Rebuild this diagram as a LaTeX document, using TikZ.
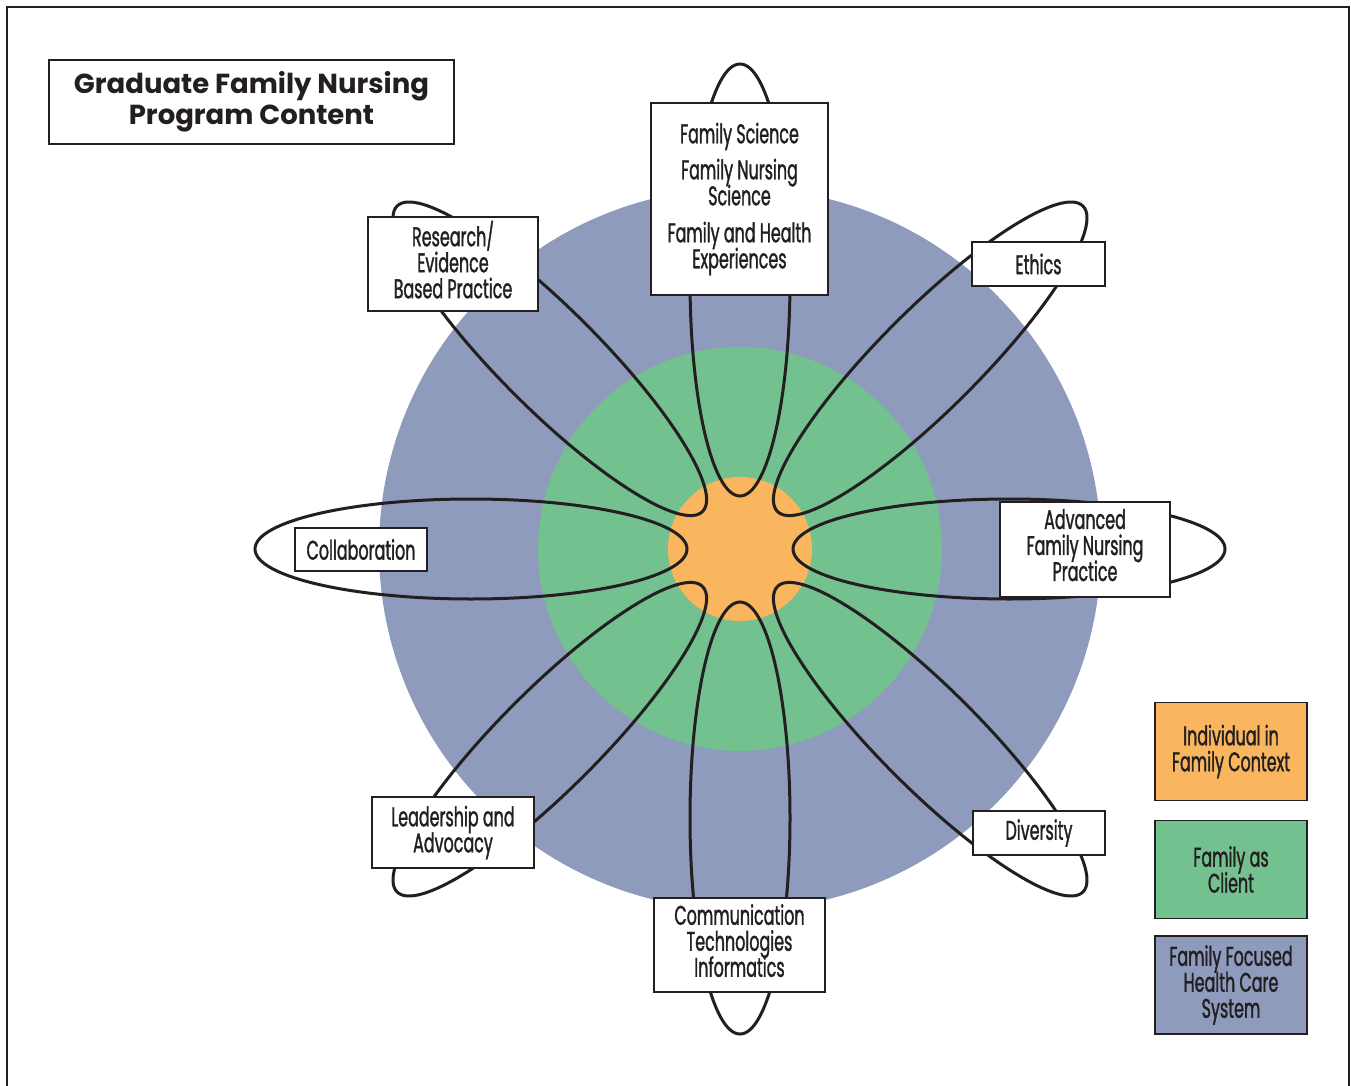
\documentclass[tikz,border=0pt]{standalone}
\usepackage{fontspec}
\newfontfamily\condfont[FakeStretch=0.59,FakeBold=1.2]{Poppins}
\newfontfamily\headfont{Poppins}
\usepackage{xcolor}
\usepackage{tikz}
\lineskiplimit=-100pt

\definecolor{sysblue}{HTML}{8E9BBC}
\definecolor{famgreen}{HTML}{72C18F}
\definecolor{indorange}{HTML}{F9B65E}
\definecolor{ink}{HTML}{231F20}

\begin{document}
\begin{tikzpicture}[
  x=1pt,y=-1pt,
  font=\condfont\fontsize{27}{26}\selectfont,
  lbl/.style={draw=ink,line width=1.6pt,fill=white,inner sep=0pt,
              align=center,text=ink},
  lift/.style={text depth=9pt},
  key/.style={lbl,minimum width=152pt,minimum height=98pt},
  petal/.style={draw=ink,line width=3pt}
]
\def\R{269}
\useasboundingbox (0,0) rectangle (1351,1086);
\draw[ink,line width=1.5pt] (7,1086) -- (7,7) -- (1349,7) -- (1349,1086);

% ---- the three rings ----
\coordinate (c) at (740,549);
\fill[sysblue]   (c) circle [radius=361pt];
\fill[famgreen]  (c) circle [radius=202pt];
\fill[indorange] (c) circle [radius=72pt];

% ---- eight petals round the centre ----
\foreach \a in {0,45,...,315}{
  \begin{scope}[shift={(c)},rotate=\a]
    \draw[petal] (\R,0) ellipse [x radius=216pt,y radius=50pt];
  \end{scope}
}

% ---- content boxes ----
\node[lbl,minimum width=405pt,minimum height=84pt,
      font=\headfont\bfseries\fontsize{27.5}{31}\selectfont] (title) at (251.5,102)
  {Graduate Family Nursing\\Program Content};
\node[lbl,minimum width=177pt,minimum height=192pt] (science) at (739.5,199)
  {Family Science\\[10pt]Family Nursing\\Science\\[11pt]Family and Health\\Experiences};
\node[lbl,lift,minimum width=170pt,minimum height=94pt] (research) at (453,264)
  {Research/\\Evidence\\Based Practice};
\node[lbl,minimum width=133pt,minimum height=44pt] (ethics) at (1038.5,264) {Ethics};
\node[lbl,minimum width=132pt,minimum height=43pt] (collab) at (361,549.5) {Collaboration};
\node[lbl,lift,minimum width=170pt,minimum height=95pt] (advanced) at (1085,549.5)
  {Advanced\\Family Nursing\\Practice};
\node[lbl,minimum width=162pt,minimum height=71pt] (leader) at (453,832.5)
  {Leadership and\\Advocacy};
\node[lbl,minimum width=132pt,minimum height=44pt] (diversity) at (1039,833) {Diversity};
\node[lbl,lift,minimum width=171pt,minimum height=94pt] (comm) at (739.5,945)
  {Communication\\Technologies\\Informatics};

% ---- key ----
\node[key,fill=indorange] (keyind) at (1231,751.5) {Individual in\\Family Context};
\node[key,fill=famgreen]  (keyfam) at (1231,869.5) {Family as\\Client};
\node[key,fill=sysblue]   (keysys) at (1231,985)   {Family Focused\\Health Care\\System};
\end{tikzpicture}
\end{document}
